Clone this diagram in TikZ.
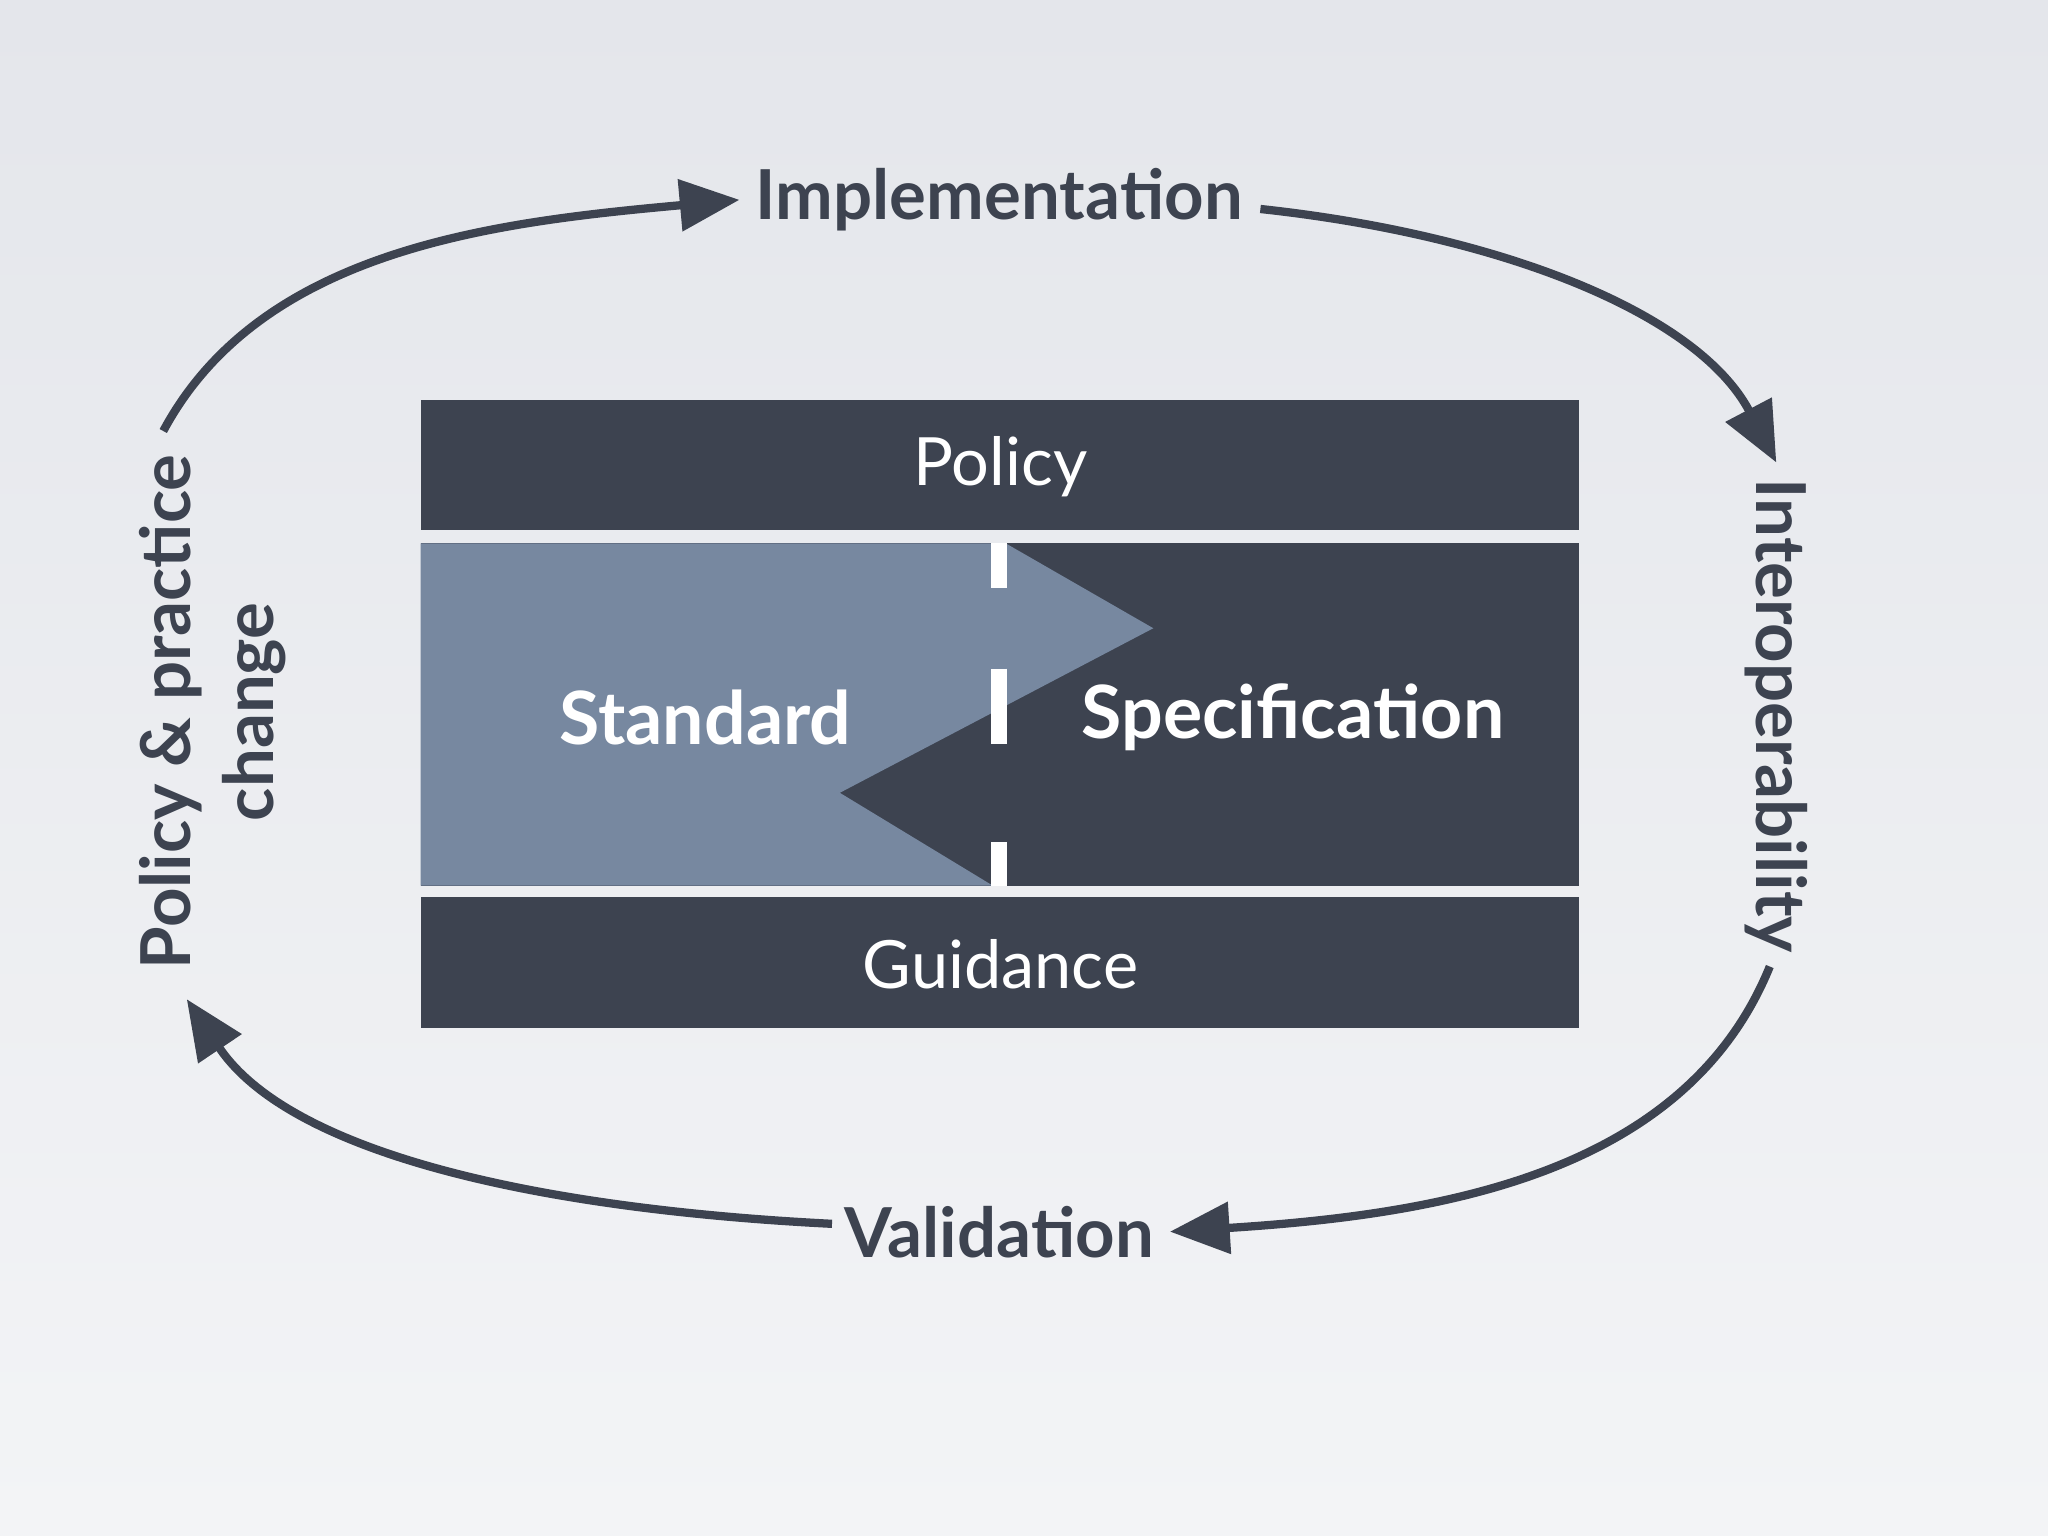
\documentclass[tikz,border=0pt]{standalone}
\usepackage{fontspec}
\setmainfont{Lato}
\usetikzlibrary{arrows.meta}
\definecolor{dk}{HTML}{3D4350}
\definecolor{lt}{HTML}{7788A0}
\definecolor{bgtop}{HTML}{E4E6EB}
\definecolor{bgbot}{HTML}{F3F4F6}
\newcommand{\nl}{\kern0pt }
\begin{document}
\begin{tikzpicture}[x=0.01cm,y=-0.01cm,
  bar/.style={fill=dk,draw=none},
  cyc/.style={draw=dk,line width=1.8pt,-{Triangle[length=13pt,width=11pt]}},
  lbl/.style={text=dk,font=\fontsize{15}{18}\selectfont\bfseries},
  inner/.style={text=white,font=\fontsize{16}{20}\selectfont\bfseries},
  thin/.style={text=white,font=\fontsize{14.5}{18}\selectfont}]
\shade[top color=bgtop,bottom color=bgbot] (0,0) rectangle (1568,1176);
\useasboundingbox (0,0) rectangle (1568,1176);
\fill[bar] (322,306) rectangle (1209,406);
\fill[bar] (322,687) rectangle (1209,787);
\fill[dk] (322,416) rectangle (1209,678);
\fill[lt] (322,416) -- (770,416) -- (883,481) -- (643,607) -- (760,678) -- (322,678) -- cycle;
\draw[white,line width=3.4pt] (765,416) -- (765,450) (765,512) -- (765,570) (765,645) -- (765,678);
\node[thin] (policy) at (766,357) {Policy};
\node[thin] (guid) at (766,738) {Guidance};
\node[inner] (std) at (540,549) {Standard};
\node[inner] (spec) at (990,549) {Specifica\nl tion};
\node[lbl] (impl) at (765,153) {Implementa\nl tion};
\node[lbl] (val) at (765,943) {Valida\nl tion};
\node[lbl,rotate=-90] (inter) at (1360,548) {Interoperability};
\node[lbl,rotate=90,align=center] (ppc) at (163,545) {Policy \& prac\nl tice\\change};
\coordinate (a1) at (125,330);
\coordinate (a2) at (965,160);
\coordinate (a3) at (1355,740);
\coordinate (a4) at (637,937);
\draw[cyc] (a1) .. controls (200,190) and (380,170) .. (impl.west);
\draw[cyc] (a2) .. controls (1150,180) and (1300,240) .. (inter.west);
\draw[cyc] (a3) .. controls (1290,900) and (1100,930) .. (val.east);
\draw[cyc] (a4) .. controls (400,925) and (220,880) .. (143,765);
\end{tikzpicture}
\end{document}
